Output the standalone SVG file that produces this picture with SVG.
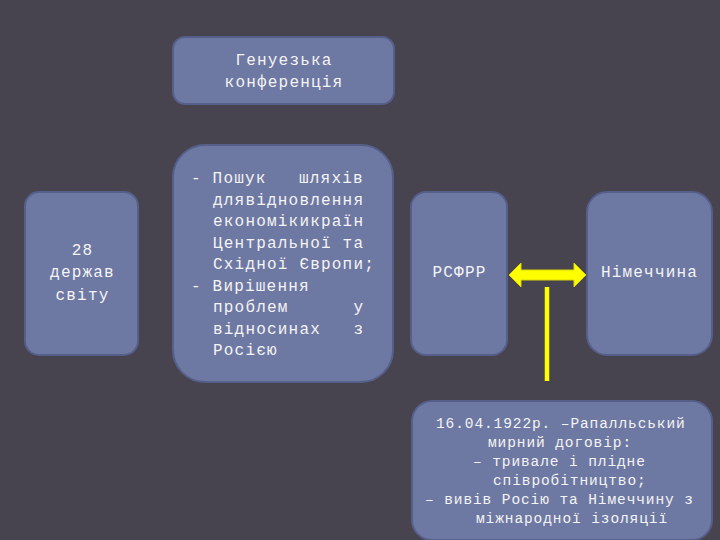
<svg xmlns="http://www.w3.org/2000/svg" width="720" height="540" viewBox="0 0 720 540">
<style>
.box{fill:#6e79a3;stroke:#555f8a;stroke-width:2}
.t{font-family:"Liberation Mono","Courier New",monospace;font-size:16px;letter-spacing:1.2px;fill:#f4f4f4}
.c{text-anchor:middle}
.s{font-size:14.5px;letter-spacing:0.9px}
</style>
<rect width="720" height="540" fill="#47434f"/>
<g id="genoa">
<rect class="box" x="173" y="37" width="221" height="67" rx="12"/>
<text class="t c" x="284" y="65">Генуезька</text>
<text class="t c" x="284" y="87">конференція</text>
</g>
<g id="states">
<rect class="box" x="25" y="192" width="113" height="163" rx="14"/>
<text class="t c" x="82.5" y="255">28</text>
<text class="t c" x="82.5" y="277">держав</text>
<text class="t c" x="82.5" y="300">світу</text>
</g>
<g id="goals">
<rect class="box" x="173" y="145" width="220" height="237" rx="32"/>
<text class="t" x="191" y="183" xml:space="preserve">- Пошук   шляхів</text>
<text class="t" x="213" y="204.5">длявідновлення</text>
<text class="t" x="213" y="226">економікикраїн</text>
<text class="t" x="213" y="247.5">Центральної та</text>
<text class="t" x="213" y="269">Східної Європи;</text>
<text class="t" x="191" y="290.5">- Вирішення</text>
<text class="t" x="213" y="312" xml:space="preserve">проблем      у</text>
<text class="t" x="213" y="333.5" xml:space="preserve">відносинах   з</text>
<text class="t" x="213" y="355">Росією</text>
</g>
<g id="rsfsr">
<rect class="box" x="411" y="192" width="96" height="163" rx="15"/>
<text class="t c" x="459.5" y="277">РСФРР</text>
</g>
<g id="germany">
<rect class="box" x="587" y="192" width="125" height="163" rx="20"/>
<text class="t c" x="649.5" y="277">Німеччина</text>
</g>
<g id="treaty">
<rect class="box" x="412" y="401" width="300" height="139" rx="20"/>
<text class="t s" x="436" y="428">16.04.1922р. –Рапалльський</text>
<text class="t s" x="488" y="447">мирний договір:</text>
<text class="t s" x="473" y="466">– тривале і плідне</text>
<text class="t s" x="493" y="485">співробітництво;</text>
<text class="t s" x="425" y="504">– вивів Росію та Німеччину з</text>
<text class="t s" x="476" y="523">міжнародної ізоляції</text>
</g>
<g id="connectors">
<polygon points="509,275 521,263 521,270 574,270 574,263 586,275 574,287 574,280 521,280 521,287" fill="#ffff00" stroke="#d8d800" stroke-width="1" stroke-linejoin="round"/>
<line x1="547" y1="287" x2="547" y2="381" stroke="#ffff00" stroke-width="4.5"/>
</g>
</svg>
